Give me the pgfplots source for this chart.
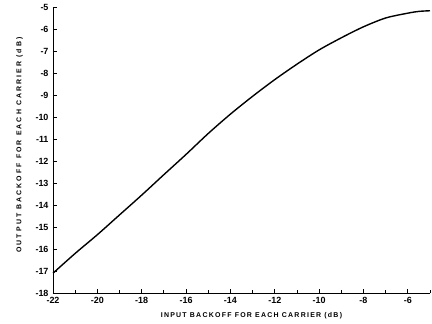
\documentclass[border=0pt]{standalone}
\usepackage{fontspec}
\setmainfont{Liberation Sans}
\newfontfamily\xlab[LetterSpace=18]{Liberation Sans}
\newfontfamily\ylab[LetterSpace=30]{Liberation Sans}
\usepackage{pgfplots}
\pgfplotsset{compat=1.18}
\begin{document}
\begin{tikzpicture}
\begin{axis}[
  scale only axis,
  width=377bp, height=286bp,
  xmin=-22, xmax=-5, ymin=-18, ymax=-5,
  axis lines=left,
  axis line style={-, line width=1pt},
  xtick={-22,-20,...,-6},
  minor xtick={-21,-19,...,-5},
  ytick={-18,-17,...,-5},
  tick align=inside,
  major tick length=4pt, minor tick length=3pt,
  tick style={line width=0.8pt, black},
  /pgf/number format/assume math mode=true,
  ticklabel style={font=\bfseries\small},
  xticklabel style={yshift=-1pt},
  yticklabel style={xshift=-1pt},
  xlabel={\xlab\bfseries\scriptsize INPUT BACKOFF FOR EACH CARRIER (dB)},
  ylabel={\ylab\bfseries\scriptsize OUTPUT BACKOFF FOR EACH CARRIER (dB)},
  xlabel style={yshift=-2pt, xshift=10pt},
  ylabel style={yshift=6pt, xshift=5pt},
  clip=false,
]
\addplot[black, line width=1.4pt, smooth] coordinates {
(-22,-17.1) (-21,-16.2) (-20,-15.35) (-19,-14.45) (-18,-13.55) (-17,-12.62)
(-16,-11.7) (-15,-10.75) (-14,-9.87) (-13,-9.06) (-12,-8.3) (-11,-7.6)
(-10,-6.95) (-9,-6.4) (-8,-5.9) (-7,-5.5) (-6,-5.28) (-5.5,-5.2) (-5,-5.17)
};
\end{axis}
\pgfresetboundingbox
\path[use as bounding box] (-53bp,-31bp) rectangle (379bp,293bp);
\end{tikzpicture}
\end{document}
